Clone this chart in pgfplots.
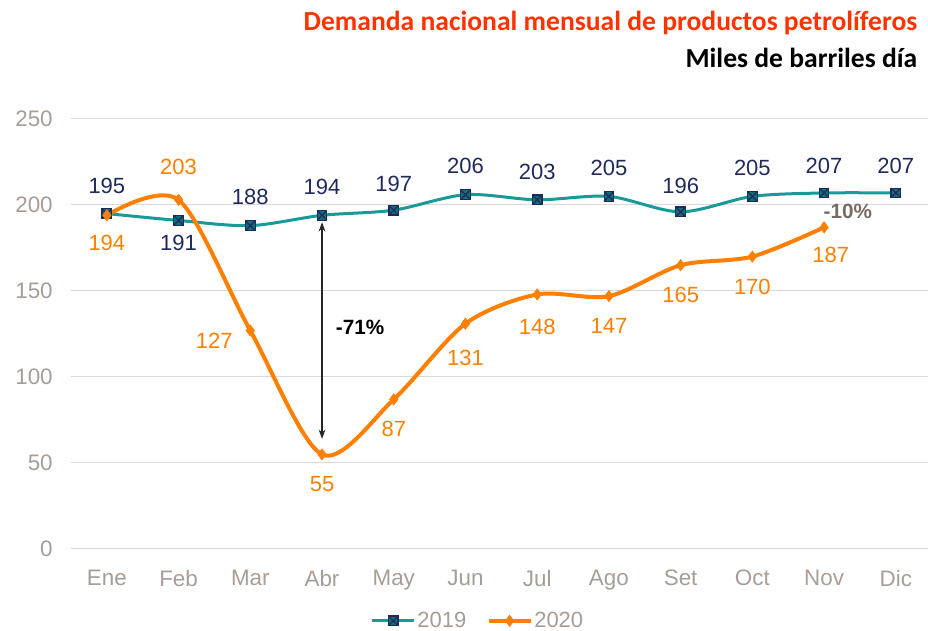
\documentclass[border=0pt]{standalone}
\usepackage{pgfplots}
\pgfplotsset{compat=1.18}
\usepackage{pgfplotstable}
\usetikzlibrary{arrows.meta}
\usepackage{fontspec}
\setmainfont{Liberation Sans}
\newfontfamily\calibri{Carlito}
\definecolor{teal19}{RGB}{23,154,152}
\definecolor{teald}{RGB}{16,110,118}
\definecolor{navy}{RGB}{31,42,92}
\definecolor{orng}{RGB}{255,128,0}
\definecolor{tickgray}{RGB}{166,158,150}
\definecolor{gridgray}{RGB}{217,217,217}
\definecolor{titlered}{RGB}{255,51,0}
\definecolor{pctgray}{RGB}{118,108,98}

\pgfdeclareplotmark{sqx}{%
 \pgfpathrectangle{\pgfqpoint{-\pgfplotmarksize}{-\pgfplotmarksize}}{\pgfqpoint{2\pgfplotmarksize}{2\pgfplotmarksize}}%
 \pgfusepathqfillstroke
 \pgfpathmoveto{\pgfqpoint{-\pgfplotmarksize}{-\pgfplotmarksize}}\pgfpathlineto{\pgfqpoint{\pgfplotmarksize}{\pgfplotmarksize}}%
 \pgfpathmoveto{\pgfqpoint{-\pgfplotmarksize}{\pgfplotmarksize}}\pgfpathlineto{\pgfqpoint{\pgfplotmarksize}{-\pgfplotmarksize}}%
 \pgfusepathqstroke}

\pgfplotstableread{
x y dx dy
0 195 0 21
1 191 0 -17
2 188 0 21.5
3 194 0 21
4 197 0 19.5
5 206 0 21.5
6 203 0 21
7 205 0 21
8 196 0 19.5
9 205 0 21
10 207 0 20
11 207 0 20
}\dataA

\pgfplotstableread{
x y dx dy
0 194 0 -21
1 203 0 25
2 127 -27 -7.5
3 55 0 -22
4 87 0 -22
5 131 0 -26
6 148 0 -24
7 147 0 -22.5
8 165 0 -22
9 170 0 -22.5
10 187 5 -21
}\dataB

\begin{document}
\begin{tikzpicture}
\path[use as bounding box] (-53.25pt,-61.5pt) rectangle (642.75pt,411.75pt);
\begin{axis}[
 at={(0,0)}, anchor=south west, scale only axis,
 width=645.5pt, height=322.5pt,
 xmin=-0.5, xmax=11.5, ymin=0, ymax=250,
 ytick={0,50,...,250},
 xtick={0,...,11},
 xticklabels={Ene,Feb,Mar,Abr,May,Jun,Jul,Ago,Set,Oct,Nov,Dic},
 ymajorgrids, grid style={gridgray, line width=0.75pt},
 axis line style={draw=none},
 major tick length=0pt,
 tick label style={font=\fontsize{16.8}{19}\selectfont, text=tickgray},
 yticklabel style={xshift=-10.2pt},
 xticklabel style={yshift=-12.3pt},
 /pgf/number format/assume math mode=true,
 clip=false,
 legend style={at={(0.473,-0.167)}, anchor=center, draw=none, fill=none,
   legend columns=2, font=\fontsize{16.5}{19}\selectfont, text=tickgray,
   /tikz/every even column/.append style={column sep=14pt},
   nodes={inner sep=1.5pt}},
 legend image code/.code={\draw[mark repeat=2,mark phase=2,#1] plot coordinates {(0pt,0pt) (15.5pt,0pt) (31pt,0pt)};},
]
\addplot[teal19, line width=2.25pt, smooth, tension=0.5, mark=sqx, mark size=3.6pt,
  mark options={solid, fill=teald, draw=navy, line width=0.9pt}]
  table[x=x,y=y]{\dataA};
\addlegendentry{2019}
\addplot[orng, line width=3pt, smooth, tension=0.5, mark=diamond*, mark size=4.2pt,
  mark options={solid, fill=orng, draw=orng, line width=0.5pt}]
  table[x=x,y=y]{\dataB};
\addlegendentry{2020}
\addplot[draw=none, forget plot, nodes near coords, point meta=explicit symbolic,
  visualization depends on={\thisrow{dx} \as \dx},
  visualization depends on={\thisrow{dy} \as \dy},
  nodes near coords style={anchor=center, xshift=\dx pt, yshift=\dy pt,
    font=\fontsize{16.5}{19}\selectfont, text=navy}]
  table[x=x,y=y,meta=y]{\dataA};
\addplot[draw=none, forget plot, nodes near coords, point meta=explicit symbolic,
  visualization depends on={\thisrow{dx} \as \dx},
  visualization depends on={\thisrow{dy} \as \dy},
  nodes near coords style={anchor=center, xshift=\dx pt, yshift=\dy pt,
    font=\fontsize{16.5}{19}\selectfont, text=orng}]
  table[x=x,y=y,meta=y]{\dataB};
\draw[{Stealth[length=7pt,width=5pt]}-{Stealth[length=7pt,width=5pt]}, black!85, line width=0.8pt] (axis cs:3,190) -- (axis cs:3,64);
\node[font=\bfseries\fontsize{15.5}{19}\selectfont, text=black] at (axis cs:3.53,129) {-71\%};
\node[font=\bfseries\fontsize{15.5}{19}\selectfont, text=pctgray] at (axis cs:10.33,196) {-10\%};
\end{axis}
\node[anchor=base east, font=\calibri\bfseries\fontsize{20.7}{24}\selectfont, text=titlered] at (638.25pt,388.5pt) {Demanda nacional mensual de productos petrolíferos};
\node[anchor=base east, font=\calibri\bfseries\fontsize{20.7}{24}\selectfont, text=black] at (638.25pt,361pt) {Miles de barriles día};
\end{tikzpicture}
\end{document}
